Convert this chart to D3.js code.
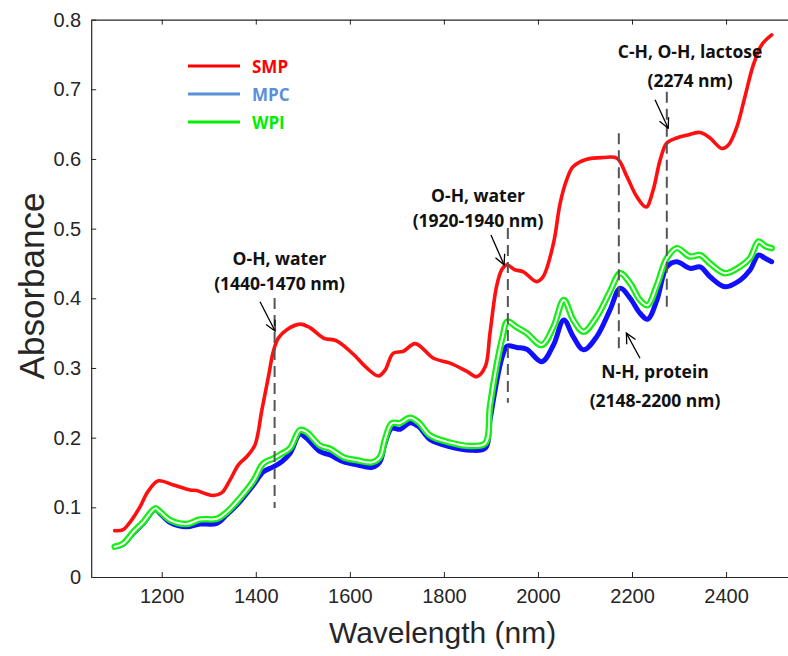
<!DOCTYPE html>
<html>
<head>
<meta charset="utf-8">
<script src="https://cdn.jsdelivr.net/npm/d3@7"></script>
<style>
  body { margin: 0; background: #fff; }
  text { font-family: "Liberation Sans", Arial, sans-serif; }
  .note { font-family: "Open Sans", sans-serif; font-weight: 700; }
</style>
</head>
<body>
<div id="chart"></div>
<script>
// Spectra (wavelength in nm, absorbance)
var smpWl  = [1100, 1118, 1135, 1154, 1170, 1193, 1225, 1260, 1274, 1295, 1310, 1328, 1345, 1363, 1381, 1398, 1413, 1427, 1437, 1448, 1466, 1494, 1515, 1544, 1572, 1607, 1636, 1661, 1675, 1692, 1714, 1739, 1778, 1813, 1849, 1870, 1888, 1898, 1912, 1923, 1934, 1951, 1969, 1997, 2011, 2033, 2047, 2061, 2075, 2104, 2139, 2168, 2189, 2210, 2230, 2245, 2260, 2274, 2295, 2316, 2345, 2366, 2391, 2405, 2423, 2440, 2458, 2476, 2497];
var smpAbs = [0.0665, 0.068, 0.081, 0.101, 0.122, 0.138, 0.132, 0.125, 0.124, 0.119, 0.117, 0.121, 0.139, 0.161, 0.173, 0.189, 0.240, 0.288, 0.323, 0.343, 0.355, 0.363, 0.358, 0.343, 0.339, 0.320, 0.300, 0.2885, 0.297, 0.321, 0.324, 0.335, 0.314, 0.307, 0.295, 0.2875, 0.302, 0.350, 0.417, 0.441, 0.448, 0.441, 0.438, 0.424, 0.431, 0.479, 0.536, 0.570, 0.589, 0.5995, 0.602, 0.601, 0.575, 0.546, 0.531, 0.5555, 0.599, 0.623, 0.630, 0.634, 0.638, 0.630, 0.615, 0.620, 0.646, 0.689, 0.735, 0.764, 0.778];

var mpcWl  = [1100, 1118, 1140, 1161, 1186, 1196, 1218, 1253, 1281, 1317, 1338, 1366, 1395, 1416, 1437, 1455, 1473, 1494, 1508, 1537, 1558, 1586, 1615, 1647, 1664, 1675, 1689, 1707, 1728, 1746, 1771, 1813, 1856, 1888, 1898, 1913, 1925, 1935, 1955, 1976, 2008, 2033, 2055, 2075, 2097, 2125, 2153, 2175, 2196, 2217, 2233, 2253, 2274, 2295, 2323, 2345, 2366, 2398, 2430, 2451, 2469, 2483, 2497];
var mpcAbs = [0.0435, 0.047, 0.063, 0.077, 0.097, 0.0915, 0.078, 0.072, 0.076, 0.077, 0.089, 0.108, 0.132, 0.151, 0.158, 0.1655, 0.1775, 0.205, 0.199, 0.180, 0.175, 0.1655, 0.161, 0.1575, 0.1655, 0.192, 0.2135, 0.212, 0.2215, 0.216, 0.197, 0.187, 0.182, 0.185, 0.225, 0.283, 0.318, 0.3315, 0.3295, 0.327, 0.309, 0.333, 0.369, 0.345, 0.326, 0.345, 0.383, 0.4145, 0.400, 0.3785, 0.370, 0.3975, 0.445, 0.4525, 0.443, 0.445, 0.431, 0.4165, 0.426, 0.4405, 0.462, 0.4575, 0.4525];

var wpiWl  = [1100, 1118, 1140, 1161, 1186, 1196, 1218, 1253, 1281, 1317, 1338, 1366, 1395, 1416, 1437, 1455, 1473, 1494, 1508, 1537, 1558, 1586, 1615, 1647, 1664, 1675, 1689, 1707, 1728, 1746, 1771, 1813, 1856, 1888, 1898, 1913, 1925, 1935, 1955, 1976, 2008, 2033, 2055, 2075, 2097, 2125, 2153, 2175, 2196, 2217, 2233, 2253, 2274, 2295, 2323, 2345, 2366, 2398, 2430, 2451, 2469, 2483, 2497];
var wpiAbs = [0.0435, 0.048, 0.065, 0.079, 0.0985, 0.094, 0.0816, 0.076, 0.0825, 0.0835, 0.093, 0.113, 0.138, 0.163, 0.170, 0.177, 0.185, 0.211, 0.208, 0.1885, 0.184, 0.172, 0.1675, 0.1645, 0.172, 0.198, 0.2205, 0.221, 0.2285, 0.222, 0.203, 0.193, 0.188, 0.192, 0.245, 0.307, 0.345, 0.3665, 0.3585, 0.350, 0.333, 0.359, 0.3975, 0.369, 0.352, 0.3735, 0.4095, 0.436, 0.4215, 0.3975, 0.390, 0.419, 0.4575, 0.472, 0.460, 0.462, 0.450, 0.436, 0.4455, 0.4575, 0.4815, 0.475, 0.472];

// Legend
var legendNames  = ["SMP", "MPC", "WPI"];
var legendColors = ["#ff0000", "#5b8fd8", "#00ee00"];

// Ticks
var xTicks = [1200, 1400, 1600, 1800, 2000, 2200, 2400];
var yTicks = [0, 0.1, 0.2, 0.3, 0.4, 0.5, 0.6, 0.7, 0.8];

// Band markers: wavelength, dashed line from/to absorbance
var bandWl   = [1440, 1936, 2172, 2274];
var bandLow  = [0.099, 0.250, 0.3215, 0.381];
var bandHigh = [0.4005, 0.501, 0.637, 0.6965];

// Notes: two text lines, centre wavelength, baselines in absorbance, arrow from -> to
var noteLine1 = ["O-H, water", "O-H, water", "C-H, O-H, lactose", "N-H, protein"];
var noteLine2 = ["(1440-1470 nm)", "(1920-1940 nm)", "(2274 nm)", "(2148-2200 nm)"];
var noteWl    = [1450.5, 1872.6, 2323.4, 2249];
var noteBase1 = [0.448, 0.5387, 0.7445, 0.2856];
var noteBase2 = [0.412, 0.5028, 0.7037, 0.2444];
var arrowFrom = [[1409, 0.395], [1900, 0.491], [2249, 0.685], [2217, 0.314]];
var arrowTo   = [[1441, 0.353], [1928, 0.448], [2277, 0.644], [2188, 0.350]];

var W = 788, H = 656;
var svg = d3.select("#chart").append("svg")
            .attr("width", W)
            .attr("height", H)
            .style("display", "block");

// Scales (the right edge of the box falls outside the picture)
var x = d3.scaleLinear().domain([1050, 2550]).range([91.2, 796.6]);
var y = d3.scaleLinear().domain([0, 0.8]).range([577, 19.6]);

var axisColor = "#262626";

// Box with inward ticks
var bottomAxis = d3.axisBottom(x).tickValues(xTicks).tickSizeInner(-5).tickSizeOuter(0).tickPadding(12).tickFormat(d3.format("d"));
var topAxis = d3.axisTop(x).tickValues(xTicks).tickSizeInner(-5).tickSizeOuter(0).tickFormat("");
var leftAxis = d3.axisLeft(y).tickValues(yTicks).tickSizeInner(-5).tickSizeOuter(0).tickPadding(10).tickFormat(function(d) { return d === 0 ? "0" : d3.format(".1f")(d); });

var gx = svg.append("g").attr("transform", "translate(0," + y(0) + ")").call(bottomAxis);
var gt = svg.append("g").attr("transform", "translate(0," + y(0.8) + ")").call(topAxis);
var gy = svg.append("g").attr("transform", "translate(" + x(1050) + ",0)").call(leftAxis);

[gx, gt, gy].forEach(function(g) {
    g.select(".domain").attr("stroke", axisColor).attr("stroke-width", 1.2);
    g.selectAll(".tick line").attr("stroke", axisColor).attr("stroke-width", 1);
    g.selectAll(".tick text").attr("fill", axisColor).style("font-size", "20px")
     .style("font-family", "'Liberation Sans', Arial, sans-serif");
});

// Axis titles
svg.append("text")
   .attr("x", x(1050) + (W - x(1050)) / 2 + 3)
   .attr("y", 643)
   .attr("text-anchor", "middle")
   .attr("fill", axisColor)
   .style("font-size", "30px")
   .text("Wavelength (nm)");

svg.append("text")
   .attr("transform", "translate(44," + 286 + ") rotate(-90)")
   .attr("text-anchor", "middle")
   .attr("fill", axisColor)
   .style("font-size", "35px")
   .text("Absorbance");

// Spectra
var line = d3.line()
             .x(function(d) { return x(d[0]); })
             .y(function(d) { return y(d[1]); })
             .curve(d3.curveCatmullRom.alpha(0.5));

var smp = d3.zip(smpWl, smpAbs);
var mpc = d3.zip(mpcWl, mpcAbs);
var wpi = d3.zip(wpiWl, wpiAbs);

var plot = svg.append("g").attr("fill", "none").attr("stroke-linejoin", "round").attr("stroke-linecap", "round");

plot.append("path").attr("d", line(smp)).attr("stroke", "#ff0f0f").attr("stroke-width", 3.6);
plot.append("path").attr("d", line(mpc)).attr("stroke", "#1010ff").attr("stroke-width", 5);
// WPI replicates show as a green double line
plot.append("path").attr("d", line(wpi)).attr("stroke", "#14ef14").attr("stroke-width", 6.5);
plot.append("path").attr("d", line(wpi)).attr("stroke", "#ffffff").attr("stroke-width", 2);

// Dashed band markers
svg.append("g").selectAll("line")
   .data(bandWl)
   .enter().append("line")
   .attr("x1", function(d) { return x(d); })
   .attr("x2", function(d) { return x(d); })
   .attr("y1", function(d, i) { return y(bandHigh[i]); })
   .attr("y2", function(d, i) { return y(bandLow[i]); })
   .attr("stroke", "#555")
   .attr("stroke-width", 2)
   .attr("stroke-dasharray", "11 6");

// Arrows
svg.append("defs").append("marker")
   .attr("id", "head")
   .attr("viewBox", "0 0 12 12")
   .attr("refX", 11).attr("refY", 6)
   .attr("markerWidth", 12).attr("markerHeight", 12)
   .attr("markerUnits", "userSpaceOnUse")
   .attr("orient", "auto")
   .append("path")
   .attr("d", "M1,1 L11,6 L1,11")
   .attr("fill", "none")
   .attr("stroke", "#000")
   .attr("stroke-width", 1.3);

svg.append("g").selectAll("line")
   .data(arrowFrom)
   .enter().append("line")
   .attr("x1", function(d) { return x(d[0]); })
   .attr("y1", function(d) { return y(d[1]); })
   .attr("x2", function(d, i) { return x(arrowTo[i][0]); })
   .attr("y2", function(d, i) { return y(arrowTo[i][1]); })
   .attr("stroke", "#000")
   .attr("stroke-width", 1.3)
   .attr("marker-end", "url(#head)");

// Notes
var notes = svg.append("g").attr("class", "note").attr("text-anchor", "middle").attr("fill", "#111").style("font-size", "17.5px");
noteLine1.forEach(function(t, i) {
    notes.append("text").attr("class", "note").attr("x", x(noteWl[i])).attr("y", y(noteBase1[i])).text(t);
    notes.append("text").attr("class", "note").attr("x", x(noteWl[i])).attr("y", y(noteBase2[i])).text(noteLine2[i]);
});

// Legend
var legend = svg.append("g").attr("transform", "translate(188,66)");
legendNames.forEach(function(name, i) {
    legend.append("line")
          .attr("x1", 0).attr("x2", 52)
          .attr("y1", i * 28).attr("y2", i * 28)
          .attr("stroke", legendColors[i])
          .attr("stroke-width", 3);
    legend.append("text")
          .attr("class", "note")
          .attr("x", 64).attr("y", i * 28 + 7)
          .attr("fill", legendColors[i])
          .style("font-size", "17px")
          .text(name);
});
</script>
</body>
</html>
